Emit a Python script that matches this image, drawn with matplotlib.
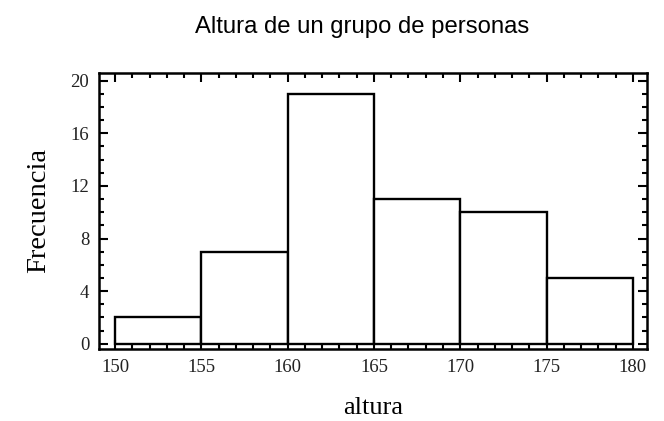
import matplotlib
matplotlib.use("Agg")
import matplotlib.pyplot as plt
from matplotlib.ticker import MultipleLocator

bin_edges = [150, 155, 160, 165, 170, 175, 180]
frequencies = [2, 7, 19, 11, 10, 5]
x_ticks = [150, 155, 160, 165, 170, 175, 180]
y_ticks = [0, 4, 8, 12, 16, 20]
title = "Altura de un grupo de personas"
xlabel = "altura"
ylabel = "Frecuencia"

fig = plt.figure(figsize=(6.64, 4.21), dpi=100)
ax = fig.add_axes([0.149, 0.171, 0.825, 0.656])

lefts = bin_edges[:-1]
widths = [b - a for a, b in zip(bin_edges[:-1], bin_edges[1:])]
ax.bar(lefts, frequencies, width=widths, align="edge", facecolor="white",
       edgecolor="black", linewidth=1.7)

ax.set_xlim(149.07, 180.8)
ax.set_ylim(-0.4, 20.6)
ax.set_xticks(x_ticks)
ax.set_yticks(y_ticks)
ax.xaxis.set_minor_locator(MultipleLocator(1))
ax.yaxis.set_minor_locator(MultipleLocator(1))
ax.tick_params(which="both", direction="in", top=True, right=True, width=1.5)
ax.tick_params(which="major", length=6.5)
ax.tick_params(which="minor", length=3.5)
ax.tick_params(axis="x", labelsize=13.5, pad=7)
ax.tick_params(axis="y", labelsize=13.5, pad=7)
for lbl in ax.get_xticklabels() + ax.get_yticklabels():
    lbl.set_fontfamily("Liberation Serif")
    lbl.set_color("#222222")
for sp in ax.spines.values():
    sp.set_linewidth(1.8)

ax.set_xlabel(xlabel, fontsize=19, family="Liberation Serif", labelpad=15)
ax.set_ylabel(ylabel, fontsize=20.5, family="Liberation Serif", labelpad=14)
fig.text(0.545, 0.935, title, ha="center", va="center", fontsize=17.2,
         family="Liberation Sans")

fig.savefig("out.png", dpi=100)
